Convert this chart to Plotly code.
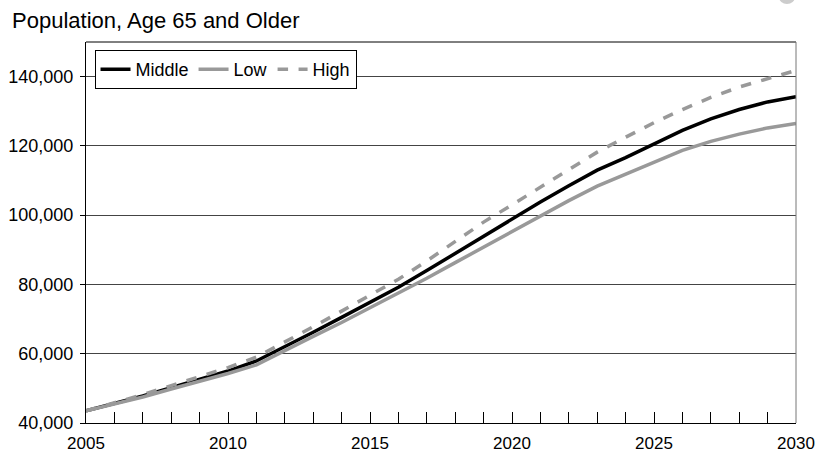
import plotly.graph_objects as go

years = list(range(2005, 2031))
middle = [43500, 45600, 47800, 50200, 52600, 55000, 57900, 62000, 66200, 70500,
          74800, 79200, 84000, 89000, 94000, 99000, 103800, 108500, 113000, 116600,
          120500, 124500, 127800, 130500, 132700, 134200]
low = [43500, 45500, 47500, 49800, 52000, 54300, 56800, 61000, 65000, 69000,
       73200, 77500, 81800, 86300, 90800, 95400, 99800, 104200, 108400, 111800,
       115300, 118700, 121300, 123400, 125200, 126500]
high = [43500, 45800, 48200, 50800, 53400, 56000, 59000, 63300, 67800, 72300,
        77000, 81500, 86800, 92300, 98000, 103000, 108000, 113000, 118200, 122500,
        126700, 130500, 134000, 137000, 139500, 141800]

y_ticks = [40000, 60000, 80000, 100000, 120000, 140000]
x_ticks = [2005, 2010, 2015, 2020, 2025, 2030]

font = "Liberation Sans, Arial, sans-serif"

fig = go.Figure()
fig.add_trace(go.Scatter(x=years, y=middle, name="Middle", mode="lines",
                         line=dict(color="#000000", width=3.5)))
fig.add_trace(go.Scatter(x=years, y=low, name="Low", mode="lines",
                         line=dict(color="#999999", width=3.5)))
fig.add_trace(go.Scatter(x=years, y=high, name="High", mode="lines",
                         line=dict(color="#999999", width=3.5, dash="dash")))

fig.update_layout(
    width=832, height=455,
    margin=dict(l=86, r=36, t=42, b=32, autoexpand=False),
    paper_bgcolor="white", plot_bgcolor="white",
    font=dict(family=font, size=17, color="#000000"),
    title=dict(text="Population, Age 65 and Older", x=0.0145, xanchor="left",
               y=0.955, yanchor="middle", font=dict(size=22, family=font)),
    showlegend=True,
    legend=dict(orientation="h", x=0.012, y=0.979, xanchor="left", yanchor="top",
                bgcolor="white", bordercolor="#000000", borderwidth=1,
                font=dict(size=18, family=font), itemwidth=30),
)
fig.update_xaxes(
    range=[2005, 2030], tickvals=x_ticks, ticktext=[str(v) for v in x_ticks],
    showgrid=False, zeroline=False, automargin=False,
    showline=True, linecolor="#000000", linewidth=1, mirror=False,
    ticks="inside", ticklen=11, tickcolor="#000000", ticklabelstandoff=5,
    minor=dict(ticks="inside", ticklen=11, dtick=1, tick0=2005, tickcolor="#000000"),
    tickfont=dict(size=17),
)
fig.update_yaxes(
    range=[40000, 150000], tickvals=y_ticks, tickformat=",",
    showgrid=True, gridcolor="#444444", gridwidth=1, zeroline=False, automargin=False,
    showline=True, linecolor="#000000", linewidth=1,
    ticks="outside", ticklen=5, tickcolor="#000000", ticklabelstandoff=3,
    tickfont=dict(size=18),
)
# top border and right border
fig.add_shape(type="line", xref="paper", yref="paper", x0=0, x1=1, y0=1, y1=1,
              line=dict(color="#000000", width=1))
fig.add_shape(type="line", xref="paper", yref="paper", x0=1, x1=1, y0=0, y1=1,
              line=dict(color="#777777", width=1))
# small grey mark cut off at the top-right edge
fig.add_shape(type="circle", xref="paper", yref="paper",
              x0=0.976, x1=0.9986, y0=1.100, y1=1.135,
              line=dict(width=0), fillcolor="#cccccc")
fig.write_html("out.html", config={"displayModeBar": False},
               post_script="document.body.style.margin='0';")
